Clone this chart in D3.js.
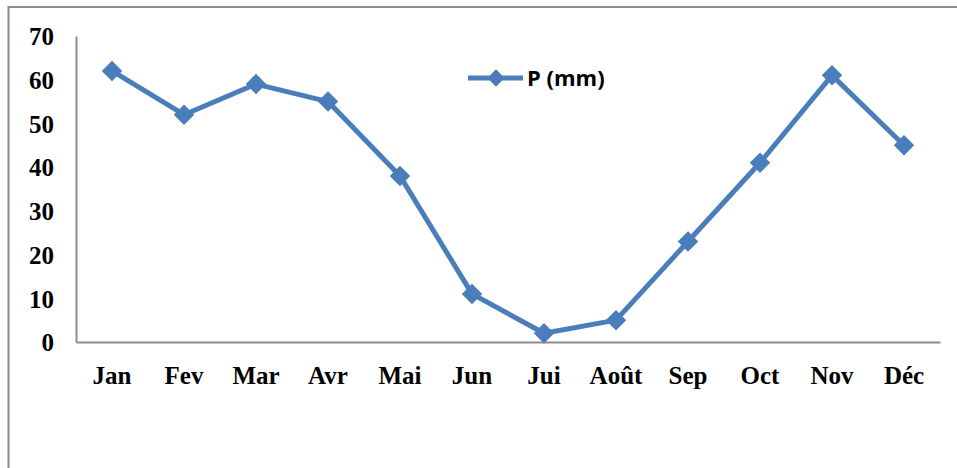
<!DOCTYPE html>
<html>
<head>
<meta charset="utf-8">
<script src="https://cdn.jsdelivr.net/npm/d3@7"></script>
<style>
  html, body { margin: 0; padding: 0; background: #fff; }
  svg { display: block; }
</style>
</head>
<body>
<svg id="chart" width="957" height="468"></svg>
<script>
// Monthly precipitation
const months = ["Jan", "Fev", "Mar", "Avr", "Mai", "Jun", "Jui", "Août", "Sep", "Oct", "Nov", "Déc"];
const precip = [62, 52, 59, 55, 38, 11, 2, 5, 23, 41, 61, 45];
const yTicks = [0, 10, 20, 30, 40, 50, 60, 70];
const seriesName = "P (mm)";

const svg = d3.select("#chart");
const W = 957, H = 468;
const plot = { left: 76, right: 940, top: 36, bottom: 342 };
const blue = "#4A7EBB";

// outer chart frame (cropped at right and bottom)
svg.append("rect")
  .attr("x", 8.5).attr("y", 7)
  .attr("width", W + 20).attr("height", H + 20)
  .attr("fill", "none").attr("stroke", "#8c8c8c").attr("stroke-width", 2);

const x = d3.scaleBand().domain(months).range([plot.left, plot.right]);
const y = d3.scaleLinear().domain([0, 70]).range([plot.bottom, plot.top]);

// axes
const yAxis = svg.append("g")
  .attr("transform", `translate(${plot.left},0)`)
  .call(d3.axisLeft(y).tickValues(yTicks).tickSize(0).tickPadding(22));
const xAxis = svg.append("g")
  .attr("transform", `translate(0,${plot.bottom})`)
  .call(d3.axisBottom(x).tickSize(0).tickPadding(24));

[yAxis, xAxis].forEach(g => {
  g.select(".domain").attr("stroke", "#8c8c8c").attr("stroke-width", 2);
  g.selectAll("text")
    .attr("fill", "#000")
    .style("font-family", "'Liberation Serif', 'Times New Roman', serif")
    .style("font-weight", "bold")
    .style("font-size", "25px");
});
yAxis.selectAll("text").attr("dy", "0.35em");
xAxis.selectAll("text").attr("dy", "0.71em");

// line
const cx = d => x(d) + x.bandwidth() / 2;
const data = months.map((m, i) => ({ m, v: precip[i] }));
svg.append("path")
  .datum(data)
  .attr("fill", "none")
  .attr("stroke", blue)
  .attr("stroke-width", 5)
  .attr("stroke-linejoin", "round")
  .attr("d", d3.line().x(d => cx(d.m)).y(d => y(d.v)));

// diamond markers
const diamond = d3.symbol().type(d3.symbolSquare).size(210);
svg.append("g").selectAll("path")
  .data(data)
  .join("path")
  .attr("d", diamond)
  .attr("fill", blue)
  .attr("transform", d => `translate(${cx(d.m)},${y(d.v)}) rotate(45)`);

// legend
const lg = svg.append("g").attr("transform", "translate(468,78)");
lg.append("line").attr("x1", 0).attr("x2", 55).attr("y1", 0).attr("y2", 0)
  .attr("stroke", blue).attr("stroke-width", 5);
lg.append("path").attr("d", d3.symbol().type(d3.symbolSquare).size(150)).attr("fill", blue)
  .attr("transform", "translate(28,0) rotate(45)");
lg.append("text")
  .attr("x", 59).attr("y", 0).attr("dy", "0.35em")
  .attr("fill", "#000")
  .style("font-family", "'Open Sans', 'Liberation Sans', sans-serif")
  .style("font-weight", "bold")
  .style("font-size", "22px")
  .text(seriesName);
</script>
</body>
</html>
